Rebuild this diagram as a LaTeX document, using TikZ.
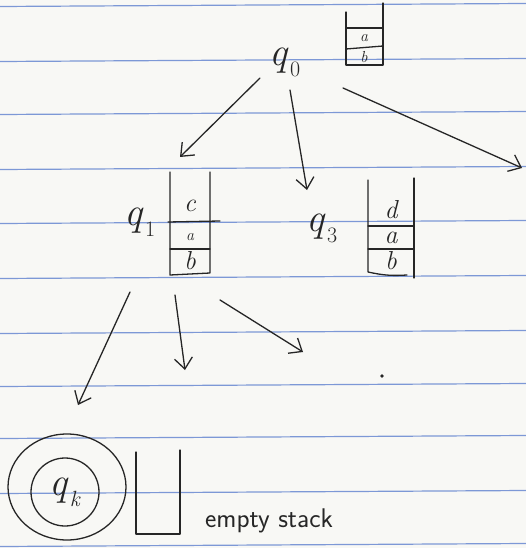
\documentclass[tikz,border=0pt]{standalone}
\usepackage{fontspec}
\usetikzlibrary{arrows.meta}
\definecolor{paper}{RGB}{248,248,245}
\definecolor{ruleblue}{RGB}{125,152,214}
\definecolor{ink}{RGB}{38,38,38}
% state label: italic q with a lowered index
\newcommand\stlabel[1]{\textit{q}\kern1pt\raisebox{-0.28em}{\fontsize{22}{24}\selectfont #1}}
\tikzset{
  pen/.style={draw=ink, line width=1.3pt, line cap=round, line join=round},
  arr/.style={pen, -{Straight Barb[length=11pt,width=18pt,line width=1.3pt]}},
  stname/.style={text=ink, inner sep=0pt, font=\fontsize{40}{44}\selectfont},
  cell/.style={text=ink, inner sep=0pt, font=\itshape\fontsize{26}{28}\selectfont},
  smallcell/.style={cell, font=\itshape\fontsize{16}{18}\selectfont},
  note/.style={text=ink, inner sep=0pt, font=\sffamily\fontsize{27}{30}\selectfont}
}
\begin{document}
\begin{tikzpicture}[x=1pt, y=-1pt]
  % paper and ruled lines
  \fill[paper] (0,0) rectangle (526,548);
  \useasboundingbox (0,0) rectangle (526,548);
  \foreach \yy in {5,60,113,168,222,277,332,385,437,492,545}
    \draw[ruleblue, line width=1.2pt] (0,\yy+1.5) -- (526,\yy-1.5);

  % start state and its stack
  \node[stname] (q0) at (285,62) {\stlabel{0}};
  \draw[pen] (346,12) -- (346,65) -- (383,65) -- (383,3);
  \draw[pen] (346,28) -- (383,28);
  \draw[pen] (346,49) -- (383,46);
  \node[smallcell] (s0a) at (364,38) {a};
  \node[smallcell] (s0b) at (364,57) {b};

  % branches out of q0
  \coordinate (e1) at (180,157);
  \coordinate (e2) at (307,190);
  \coordinate (e3) at (522,168);
  \draw[arr] ([shift={(-25,16)}]q0.center) -- (e1);
  \draw[arr] ([shift={(5,28)}]q0.center) -- (e2);
  \draw[arr] ([shift={(58,26)}]q0.center) -- (e3);

  % state q1 with stack c a b
  \node[stname] (q1) at (140,222) {\stlabel{1}};
  \coordinate (st1) at (190,274);
  \draw[pen] (170,172) -- (170,275) -- (210,273) -- (210,172);
  \draw[pen] (168,222) -- (220,221);
  \draw[pen] (170,249) -- (210,249);
  \node[cell] (c1) at (190,206) {c};
  \node[smallcell] (a1) at (190,237) {a};
  \node[cell] (b1) at (190,261) {b};

  % state q3 with stack d a b
  \node[stname] (q3) at (322,228) {\stlabel{3}};
  \draw[pen] (368,180) -- (368,272) to[bend right=8] (407,275);
  \draw[pen] (414,178) -- (414,278);
  \draw[pen] (368,226) -- (414,226);
  \draw[pen] (368,249) -- (414,249);
  \node[cell] (d3) at (391,210) {d};
  \node[cell] (a3) at (391,238) {a};
  \node[cell] (b3) at (391,261) {b};

  % branches out of q1
  \coordinate (f1) at (78,405);
  \coordinate (f2) at (185,370);
  \coordinate (f3) at (303,352);
  \draw[arr] ([shift={(-60,18)}]st1) -- (f1);
  \draw[arr] ([shift={(-15,21)}]st1) -- (f2);
  \draw[arr] ([shift={(30,26)}]st1) -- (f3);

  % stray dot
  \fill[ink] (382,376) circle (1.8pt);

  % accepting state with empty stack
  \node[pen, circle, minimum size=68pt, stname] (qk) at (65,492) {\stlabel{\textit{k}}};
  \draw[pen] ([shift={(2,-5)}]qk.center) ellipse [x radius=59pt, y radius=53pt];
  \draw[pen] (136,452) -- (136,534) -- (180,534) -- (180,450);
  \node[note, anchor=base west] (es) at (205,527) {empty stack};
\end{tikzpicture}
\end{document}
